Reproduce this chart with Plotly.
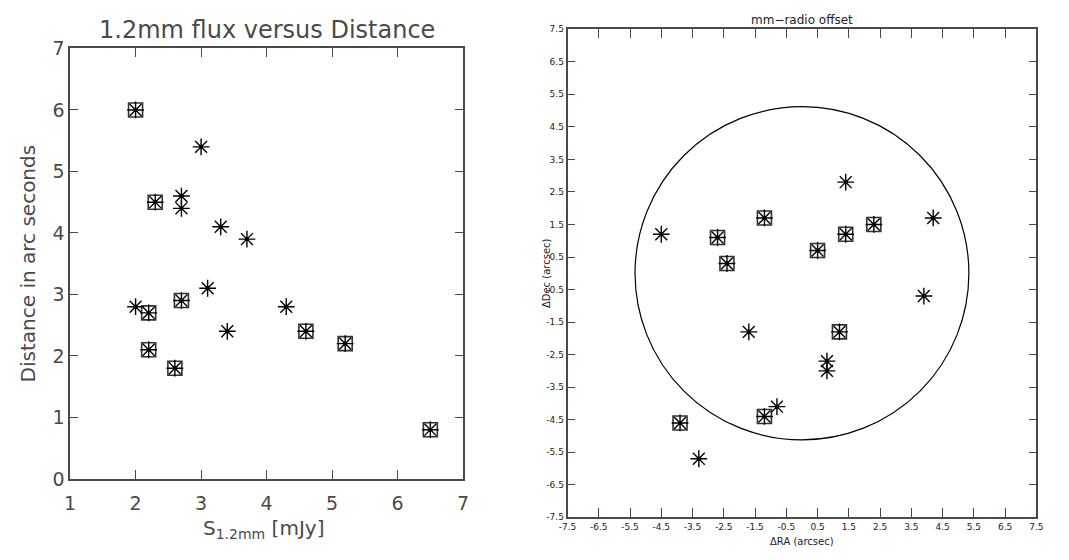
import plotly.graph_objects as go

# ---- Left panel data: 1.2mm flux vs distance ----
flux_sq = [2.0, 2.3, 2.2, 2.7, 2.2, 2.6, 4.6, 5.2, 6.5]
dist_sq = [6.0, 4.5, 2.7, 2.9, 2.1, 1.8, 2.4, 2.2, 0.8]
flux_st = [3.0, 2.7, 2.7, 3.3, 3.7, 2.0, 3.1, 3.4, 4.3]
dist_st = [5.4, 4.6, 4.4, 4.1, 3.9, 2.8, 3.1, 2.4, 2.8]

left_xticks = [1, 2, 3, 4, 5, 6, 7]
left_yticks = [0, 1, 2, 3, 4, 5, 6, 7]

# ---- Right panel data: mm-radio offset ----
ra_sq = [-2.7, -2.4, -1.2, 0.5, 1.4, 2.3, 1.2, -1.2, -3.9]
dec_sq = [1.1, 0.3, 1.7, 0.7, 1.2, 1.5, -1.8, -4.4, -4.6]
ra_st = [-4.5, 1.4, 4.2, 3.9, -1.7, 0.8, 0.8, -0.8, -3.3]
dec_st = [1.2, 2.8, 1.7, -0.7, -1.8, -2.7, -3.0, -4.1, -5.7]

off_ticks = [-7.5, -6.5, -5.5, -4.5, -3.5, -2.5, -1.5, -0.5, 0.5, 1.5, 2.5, 3.5, 4.5, 5.5, 6.5, 7.5]
off_ticktext = ["%.1f" % v for v in off_ticks]
circle_rx = 5.34
circle_ry = 5.12

W, H = 1069, 560
FONT = "DejaVu Sans"
GRAY = "#4a4a4a"

fig = go.Figure()

def add_points(x, y, xa, ya, square):
    if square:
        fig.add_trace(go.Scatter(x=x, y=y, mode="markers", xaxis=xa, yaxis=ya,
                                 marker=dict(symbol="square-open", size=14, color="#333333",
                                             line=dict(color="#333333", width=1.6)),
                                 showlegend=False, hoverinfo="skip"))
    fig.add_trace(go.Scatter(x=x, y=y, mode="markers", xaxis=xa, yaxis=ya,
                             marker=dict(symbol="asterisk-open", size=14, color="black",
                                         line=dict(color="black", width=1.4)),
                             showlegend=False))
    fig.add_trace(go.Scatter(x=x, y=y, mode="markers", xaxis=xa, yaxis=ya,
                             marker=dict(symbol="circle", size=4, color="black",
                                         line=dict(width=0)),
                             showlegend=False, hoverinfo="skip"))

add_points(flux_sq, dist_sq, "x", "y", True)
add_points(flux_st, dist_st, "x", "y", False)
add_points(ra_sq, dec_sq, "x2", "y2", True)
add_points(ra_st, dec_st, "x2", "y2", False)

fig.add_shape(type="circle", xref="x2", yref="y2",
              x0=-circle_rx, x1=circle_rx, y0=-circle_ry, y1=circle_ry,
              line=dict(color="black", width=1.2))

def px_x(p):
    return p / W

def px_y(p):
    return 1 - p / H

axis_common = dict(showgrid=False, zeroline=False, showline=True, linecolor=GRAY,
                   linewidth=1.6, mirror="ticks", ticks="inside", tickcolor=GRAY,
                   tickwidth=1.2)

fig.update_layout(
    width=W, height=H, margin=dict(l=0, r=0, t=0, b=0),
    paper_bgcolor="white", plot_bgcolor="white",
    xaxis=dict(domain=[px_x(62), px_x(461)], range=[1, 7], tickvals=left_xticks,
               ticklen=9, tickfont=dict(family=FONT, size=19, color=GRAY),
               ticklabelstandoff=7, anchor="y", **axis_common),
    yaxis=dict(domain=[px_y(487), px_y(39)], range=[0, 7], tickvals=left_yticks,
               ticklen=8, tickfont=dict(family=FONT, size=19, color=GRAY),
               anchor="x", **axis_common),
    xaxis2=dict(domain=[px_x(567), px_x(1043)], range=[-7.5, 7.5], tickvals=off_ticks,
                ticktext=off_ticktext, ticklen=9,
                tickfont=dict(family=FONT, size=9, color="#222222"),
                anchor="y2", **axis_common),
    yaxis2=dict(domain=[px_y(527), px_y(19)], range=[-7.5, 7.5], tickvals=off_ticks,
                ticktext=off_ticktext, ticklen=8,
                tickfont=dict(family=FONT, size=9, color="#222222"),
                anchor="x2", **axis_common),
)

ann = [
    dict(text="1.2mm flux versus Distance", x=262, y=20, size=24, color=GRAY, angle=0),
    dict(text="S<sub>1.2mm</sub> [mJy]", x=258, y=539, size=20, color=GRAY, angle=0),
    dict(text="Distance in arc seconds", x=19, y=263, size=20, color=GRAY, angle=-90),
    dict(text="mm\u2212radio offset", x=805, y=9, size=12, color="#222222", angle=0),
    dict(text="\u0394RA (arcsec)", x=805, y=552, size=10, color="#222222", angle=0),
    dict(text="\u0394Dec (arcsec)", x=545, y=273, size=10, color="#222222", angle=-90),
]
for a in ann:
    fig.add_annotation(text=a["text"], x=px_x(a["x"]), y=px_y(a["y"]), xref="paper",
                       yref="paper", showarrow=False, textangle=a["angle"],
                       xanchor="center", yanchor="middle",
                       font=dict(family=FONT, size=a["size"], color=a["color"]))

fig.write_html("out.html")
